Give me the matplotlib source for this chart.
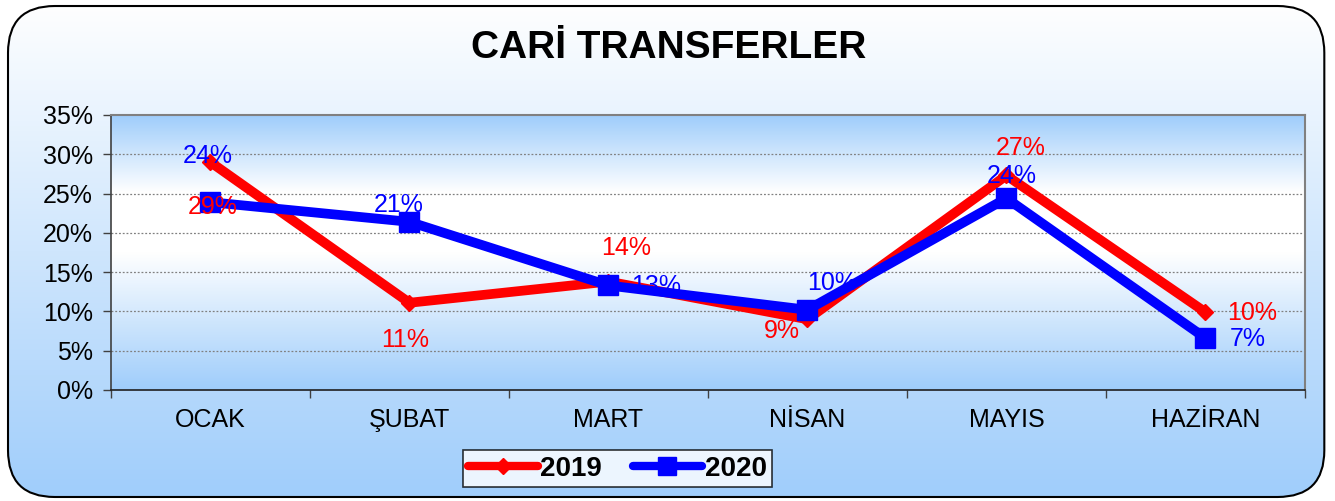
import matplotlib
matplotlib.use('Agg')
import matplotlib.pyplot as plt
import numpy as np
from matplotlib.colors import LinearSegmentedColormap
from matplotlib.patches import FancyBboxPatch

plt.rcParams['font.family'] = ['Liberation Sans', 'DejaVu Sans']

months = ['OCAK', 'ŞUBAT', 'MART', 'NİSAN', 'MAYIS', 'HAZİRAN']
vals_2019 = [29.0, 11.1, 13.8, 9.0, 27.3, 9.9]
vals_2020 = [23.9, 21.4, 13.3, 10.2, 24.4, 6.6]
labels_2019 = ['29%', '11%', '14%', '9%', '27%', '10%']
labels_2020 = ['24%', '21%', '13%', '10%', '24%', '7%']
yticks = [0, 5, 10, 15, 20, 25, 30, 35]

# label offsets in pixels (dx, dy)
off_2019 = [(2, -45), (-4, -37), (18, 34), (-26, -12), (14, 27), (47, -1)]
off_2020 = [(-3, 46), (-11, 17), (48, -1), (25, 27), (5, 22), (42, -1)]

fig = plt.figure(figsize=(13.35, 5.01), dpi=100)

# figure background with gradient and rounded border
bg = fig.add_axes([0, 0, 1, 1], zorder=-10)
bg.set_xlim(0, 1)
bg.set_ylim(0, 1)
bg.axis('off')
fig_cmap = LinearSegmentedColormap.from_list('figbg', ['#9fcdfb', '#ffffff'])
grad = np.linspace(0, 1, 256).reshape(-1, 1)
im = bg.imshow(grad, cmap=fig_cmap, extent=[0, 1, 0, 1], origin='lower', aspect='auto')
box = FancyBboxPatch((0.006, 0.008), 0.986, 0.980, boxstyle='round,pad=0,rounding_size=0.035',
                     transform=bg.transAxes, facecolor='none', edgecolor='black', lw=1.5,
                     mutation_aspect=1335 / 501)
bg.add_patch(box)
im.set_clip_path(box)

ax = fig.add_axes([0.0831, 0.2216, 0.8944, 0.5489])
x = np.arange(len(months))
ax.set_xlim(-0.5, len(months) - 0.5)
ax.set_ylim(0, 35)

# plot-area gradient: blue top, white middle, blue bottom
pa_cmap = LinearSegmentedColormap.from_list('pabg', [(0, '#9fcdfb'), (0.5, '#ffffff'), (0.72, '#ffffff'), (1, '#9fcdfb')])
ax.imshow(grad, cmap=pa_cmap, extent=[-0.5, len(months) - 0.5, 0, 35], origin='lower',
          aspect='auto', zorder=0)

for t in yticks[1:-1]:
    ax.axhline(t, color='#808080', lw=0.9, ls=(0, (1.5, 1.5)), zorder=1)

ax.plot(x, vals_2019, color='#ff0000', lw=7, marker='D', markersize=8, zorder=3,
        solid_capstyle='round', label='2019')
ax.plot(x, vals_2020, color='#0000ff', lw=7, marker='s', markersize=14, zorder=4,
        solid_capstyle='round', label='2020')

for i in range(len(months)):
    ax.annotate(labels_2019[i], (x[i], vals_2019[i]), xytext=off_2019[i], textcoords='offset pixels',
                ha='center', va='center', color='#ff0000', fontsize=18, zorder=6)
    ax.annotate(labels_2020[i], (x[i], vals_2020[i]), xytext=off_2020[i], textcoords='offset pixels',
                ha='center', va='center', color='#0000ff', fontsize=18, zorder=6)

ax.set_yticks(yticks)
ax.set_yticklabels([f'{t}%' for t in yticks], fontsize=18)
ax.set_xticks(x)
ax.set_xticklabels(months, fontsize=18)
ax.tick_params(axis='x', length=0, pad=13)
ax.set_xticks(np.arange(-0.5, len(months)), minor=True)
ax.tick_params(axis='x', which='minor', length=6, width=1, color='#404040')
ax.tick_params(axis='y', length=6, width=1, color='#404040', pad=7)

for s in ['top', 'right']:
    ax.spines[s].set_color('#808080')
    ax.spines[s].set_linewidth(1.5)
ax.spines['left'].set_color('#404040')
ax.spines['bottom'].set_color('#202020')
ax.spines['left'].set_linewidth(1.2)
ax.spines['bottom'].set_linewidth(1.2)

fig.text(0.501, 0.904, 'CARİ TRANSFERLER', ha='center', va='center', fontsize=28, fontweight='bold')

leg = fig.legend(loc='center', bbox_to_anchor=(0.4625, 0.064), ncol=2, frameon=True, fancybox=False,
                 prop={'weight': 'bold', 'size': 20}, handlelength=2.5, handletextpad=0.1,
                 columnspacing=1.1, borderpad=0.2, borderaxespad=0, edgecolor='black')
leg.get_frame().set_linewidth(1.2)
for h in leg.legend_handles:
    h.set_linewidth(6)
leg.legend_handles[0].set_markersize(8)
leg.legend_handles[1].set_markersize(13)

fig.savefig('out.png', dpi=100)
